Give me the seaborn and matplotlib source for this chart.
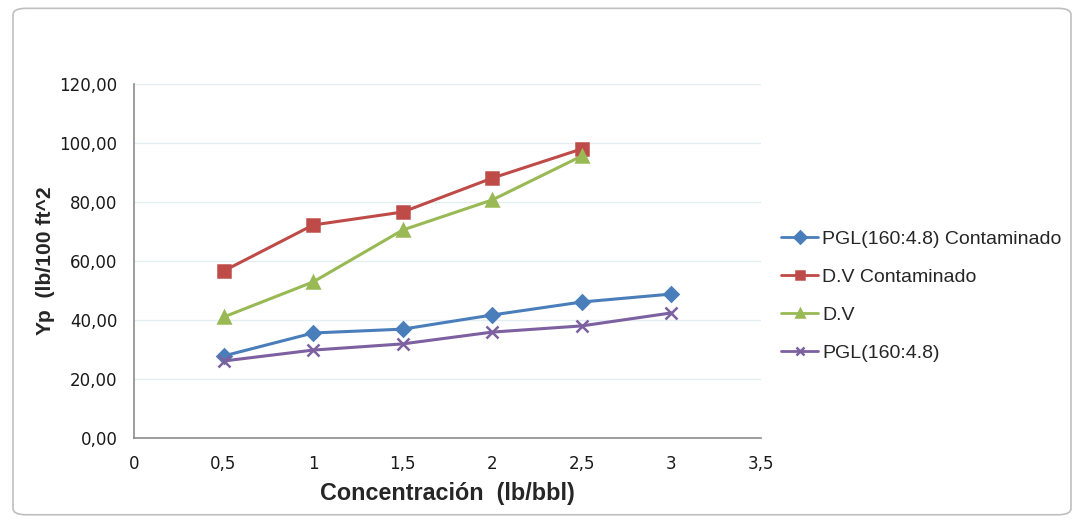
import matplotlib
matplotlib.use("Agg")
import matplotlib.pyplot as plt
from matplotlib import font_manager
from matplotlib.patches import FancyBboxPatch
from matplotlib.ticker import FuncFormatter, MultipleLocator
import pandas as pd
import seaborn as sns

# Concentration (lb/bbl) for each series
conc_pgl_cont = [0.5, 1.0, 1.5, 2.0, 2.5, 3.0]
yp_pgl_cont = [27.8, 35.6, 36.9, 41.7, 46.1, 48.8]

conc_dv_cont = [0.5, 1.0, 1.5, 2.0, 2.5]
yp_dv_cont = [56.6, 72.2, 76.6, 88.1, 98.0]

conc_dv = [0.5, 1.0, 1.5, 2.0, 2.5]
yp_dv = [41.0, 52.9, 70.5, 80.7, 95.6]

conc_pgl = [0.5, 1.0, 1.5, 2.0, 2.5, 3.0]
yp_pgl = [26.1, 29.8, 31.9, 35.9, 38.0, 42.4]

series_names = ["PGL(160:4.8) Contaminado", "D.V Contaminado", "D.V", "PGL(160:4.8)"]
series_colors = ["#4A7EBB", "#BE4B48", "#98B954", "#7D60A0"]
series_markers = ["D", "s", "^", "x"]
series_msize = [7, 8, 9, 8]

sns.set_style("white")
plt.rcParams["font.family"] = ["Liberation Sans", "DejaVu Sans"]

# regular-width bold face for the axis titles
bold_file = None
for f in font_manager.fontManager.ttflist:
    if f.fname.endswith("LiberationSans-Bold.ttf"):
        bold_file = f.fname
        break
if bold_file:
    title_font = lambda size: font_manager.FontProperties(fname=bold_file, size=size)
else:
    title_font = lambda size: font_manager.FontProperties(family="DejaVu Sans", weight="bold", size=size)

fig = plt.figure(figsize=(10.84, 5.21), dpi=100)
fig.patch.set_facecolor("white")

# rounded chart border
border = FancyBboxPatch((0.012, 0.012), 0.976, 0.972,
                        boxstyle="round,pad=0,rounding_size=0.012",
                        transform=fig.transFigure, facecolor="none",
                        edgecolor="#BFBFBF", linewidth=1.2, zorder=-1)
fig.patches.append(border)

ax = fig.add_axes([0.1236, 0.1593, 0.5784, 0.6795])
ax.set_facecolor("none")

for name, xs, ys, col, mk, ms in zip(series_names,
                                     [conc_pgl_cont, conc_dv_cont, conc_dv, conc_pgl],
                                     [yp_pgl_cont, yp_dv_cont, yp_dv, yp_pgl],
                                     series_colors, series_markers, series_msize):
    d = pd.DataFrame({"conc": xs, "yp": ys})
    sns.lineplot(data=d, x="conc", y="yp", color=col, marker=mk,
                 markersize=ms, markeredgecolor=col, markeredgewidth=1.8,
                 linewidth=2.2, label=name, ax=ax)

ax.set_xlim(0, 3.5)
ax.set_ylim(0, 120)
ax.xaxis.set_major_locator(MultipleLocator(0.5))
ax.yaxis.set_major_locator(MultipleLocator(20))

ax.xaxis.set_major_formatter(FuncFormatter(lambda v, _: f"{v:g}".replace(".", ",")))
ax.yaxis.set_major_formatter(FuncFormatter(lambda v, _: f"{v:.2f}".replace(".", ",")))

ax.grid(axis="y", color="#E3EEF3", linewidth=1)
ax.set_axisbelow(True)
for side in ("top", "right"):
    ax.spines[side].set_visible(False)
for side in ("left", "bottom"):
    ax.spines[side].set_color("#8C8C8C")
    ax.spines[side].set_linewidth(1.2)
ax.tick_params(axis="both", which="major", direction="out", length=5,
               color="#8C8C8C", labelsize=12, labelcolor="#1A1A1A", pad=7)
for lbl in ax.get_xticklabels() + ax.get_yticklabels():
    lbl.set_fontfamily(["DejaVu Sans"])

ax.set_xlabel("Concentración  (lb/bbl)", fontproperties=title_font(16.8), labelpad=7)
ax.set_ylabel("Yp  (lb/100 ft^2", fontproperties=title_font(15.2), labelpad=3)

handles, labels = ax.get_legend_handles_labels()
leg = ax.legend(handles, labels, loc="center left", bbox_to_anchor=(1.02, 0.40),
                frameon=False, fontsize=14, handlelength=1.9, handletextpad=0.2,
                labelspacing=1.05, borderaxespad=0)
for h in leg.legend_handles:
    h.set_markersize(6)
    h.set_linewidth(2)

fig.savefig("out.png", dpi=100, facecolor="white")
